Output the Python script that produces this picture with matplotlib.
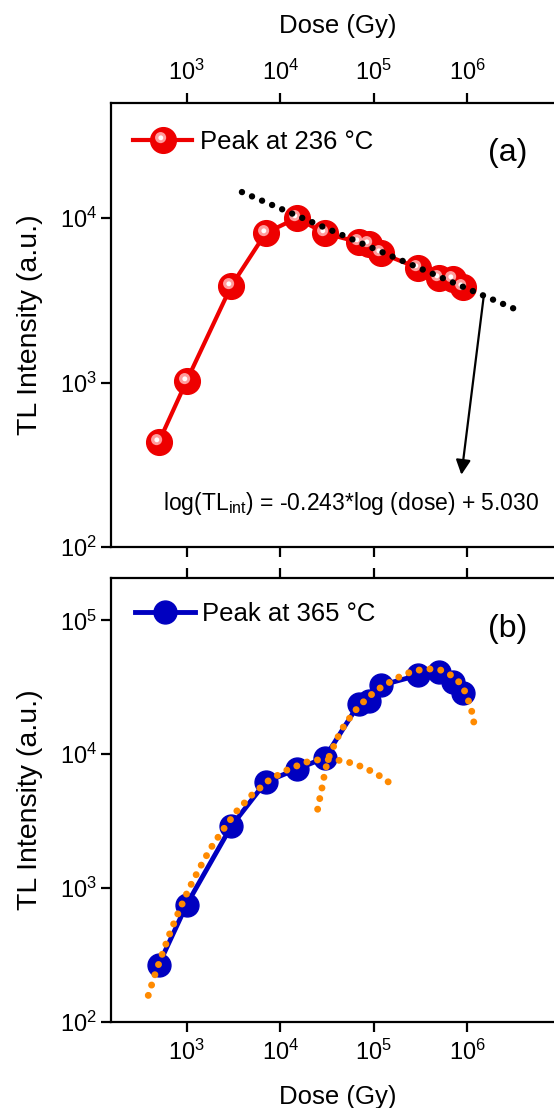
import matplotlib
matplotlib.use('Agg')
import matplotlib.pyplot as plt
from matplotlib.markers import MarkerStyle
from matplotlib.transforms import Affine2D
from matplotlib.legend_handler import HandlerTuple
from matplotlib.ticker import FixedLocator, NullLocator

plt.rcParams['font.family'] = ['Liberation Sans', 'DejaVu Sans']
plt.rcParams['mathtext.fontset'] = 'custom'
plt.rcParams['mathtext.rm'] = 'Liberation Sans'
plt.rcParams['mathtext.it'] = 'Liberation Sans:italic'
plt.rcParams['mathtext.bf'] = 'Liberation Sans:bold'

# dose points (Gy), shared by both peaks
dose = [500, 1000, 3000, 7000, 15000, 30000, 70000, 90000, 120000,
        300000, 500000, 700000, 900000]
tl_236 = [432, 1026, 3870, 8110, 10000, 8110, 7110, 6980, 6120,
          4970, 4320, 4260, 3810]
tl_365 = [266, 754, 2900, 6210, 7730, 9390, 23900, 25000, 32700,
          38900, 41200, 34700, 28700]
dose_ticks = [1e3, 1e4, 1e5, 1e6]

# linear fit of the decreasing part (panel a), end points
fit_dose = [3900, 3.4e6]
fit_tl = [14400, 2770]
arrow_from = (1.51e6, 3370)
arrow_to = (8.7e5, 275)

# fitted components of peak at 365 C (panel b)
comp1_dose = [388, 461, 558, 675, 834, 1050, 1365, 1786, 2427, 3396, 4989,
              7656, 12420, 21330, 28510, 36980, 49320, 64120, 82790,
              105900, 133000, 167900]
comp1_tl = [158, 230, 334, 479, 684, 982, 1400, 1963, 2704, 3733, 4966,
            6427, 7762, 8974, 9120, 9120, 8872, 8414, 7816, 7178, 6471, 5702]
comp2_dose = [25180, 26670, 28180, 29650, 32360, 38550, 42850, 49320, 69180,
              105900, 176200, 225400, 295800, 389900, 515200, 650100, 798000,
              939700, 1045000, 1135000, 1191000]
comp2_tl = [3882, 4753, 5702, 6934, 9120, 12020, 14090, 16750, 22800, 29920,
            36980, 40090, 42360, 43350, 42660, 39540, 35480, 29720, 24600,
            20370, 16750]

red = '#ee0000'
blue = '#0000c0'
orange = '#ff8a00'

fig = plt.figure(figsize=(5.54, 11.08), dpi=100)
W, H = 554, 1108
xlim = (10 ** 2.19, 10 ** 7.048)
axa = fig.add_axes([111 / W, 1 - 547 / H, 454 / W, 444 / H])
axb = fig.add_axes([111 / W, 1 - 1022 / H, 454 / W, 444 / H])

for ax in (axa, axb):
    ax.set_xscale('log')
    ax.set_yscale('log')
    ax.set_xlim(*xlim)
    ax.xaxis.set_major_locator(FixedLocator(dose_ticks))
    ax.xaxis.set_minor_locator(NullLocator())
    ax.yaxis.set_minor_locator(NullLocator())
    for s in ax.spines.values():
        s.set_linewidth(1.6)
    ax.tick_params(which='major', direction='out', length=7, width=1.6,
                   labelsize=17, pad=3)
    ax.tick_params(axis='x', pad=6)
    ax.set_ylabel('TL Intensity (a.u.)', fontsize=20.5, labelpad=12)

axa.set_ylim(100, 10 ** 4.70)
axb.set_ylim(100, 10 ** 5.316)
axa.tick_params(axis='x', top=True, bottom=True, labeltop=True, labelbottom=False)
axb.tick_params(axis='x', top=True, bottom=True, labeltop=False, labelbottom=True)
axa.xaxis.set_label_position('top')
axa.set_xlabel('Dose (Gy)', fontsize=18.5, labelpad=19)
axb.set_xlabel('Dose (Gy)', fontsize=18.5, labelpad=14)

# ---- panel (a): red "sphere" markers
hl_big = MarkerStyle('o', transform=Affine2D().translate(-0.26, 0.26))
hl_small = MarkerStyle('o', transform=Affine2D().translate(-0.55, 0.55))
la, = axa.plot(dose, tl_236, '-', color=red, lw=3, marker='o', ms=18.5,
               mec=red, mfc=red, zorder=3)
h1, = axa.plot(dose, tl_236, ls='none', marker=hl_big, ms=8,
               mfc='#ff9c9c', mec='none', zorder=4)
h2, = axa.plot(dose, tl_236, ls='none', marker=hl_small, ms=3.5,
               mfc='white', mec='none', zorder=5)
axa.plot(fit_dose, fit_tl, color='black', lw=4.6, ls=(0, (0.01, 1.7)),
         dash_capstyle='round', zorder=6)
axa.annotate('', xy=arrow_to, xytext=arrow_from,
             arrowprops=dict(arrowstyle='-|>', color='black', lw=1.6,
                             mutation_scale=22, shrinkA=0, shrinkB=0),
             zorder=6)
axa.text(0.114, 0.099, r'log(TL$_{\mathrm{int}}$) = -0.243*log (dose) + 5.030',
         transform=axa.transAxes, fontsize=16.5, va='center', ha='left')
axa.text(0.873, 0.888, '(a)', transform=axa.transAxes, fontsize=23,
         ha='center', va='center')
axa.legend([(la, h1, h2)], ['Peak at 236 °C'],
           handler_map={tuple: HandlerTuple(ndivide=1)},
           loc='upper left', bbox_to_anchor=(0.015, 0.975), frameon=False,
           fontsize=18.5, handlelength=2.3, handletextpad=0.3,
           borderaxespad=0.2)

# ---- panel (b)
lb, = axb.plot(dose, tl_365, '-', color=blue, lw=3.5, marker='o', ms=16.5,
               mec=blue, mfc=blue, zorder=3)
for cx, cy in ((comp1_dose, comp1_tl), (comp2_dose, comp2_tl)):
    axb.plot(cx, cy, color=orange, lw=5, ls=(0, (0.01, 1.55)),
             dash_capstyle='round', zorder=5)
axb.text(0.873, 0.885, '(b)', transform=axb.transAxes, fontsize=23,
         ha='center', va='center')
axb.legend([lb], ['Peak at 365 °C'], loc='upper left',
           bbox_to_anchor=(0.02, 0.98), frameon=False, fontsize=18.5,
           handlelength=2.3, handletextpad=0.3, borderaxespad=0.2)

fig.savefig('out.png', dpi=100)
